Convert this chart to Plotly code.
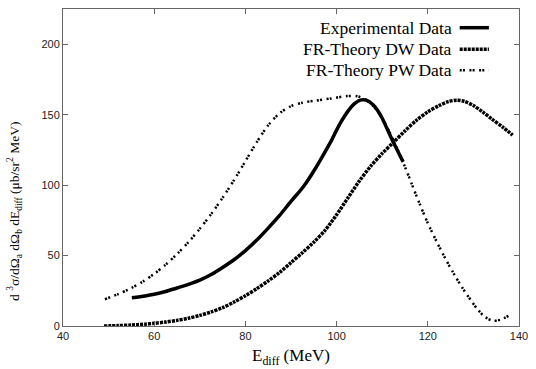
import plotly.graph_objects as go

# Experimental data (solid)
exp_x = [55.1, 58, 60, 62.5, 65, 67.5, 70, 72.5, 75, 77.5, 80, 82.5, 85, 87.5, 90, 92, 93.3, 95, 97, 99, 100,
         101, 102.5, 104, 105.4, 106.5, 108, 109, 110, 111, 112.4, 113.5, 114.6]
exp_y = [20, 21.3, 22.5, 24.5, 27, 29.5, 32.5, 36.5, 41.5, 47, 53.5, 61, 69.5, 78.5, 88.5, 96, 101.5, 110, 121,
         132.5, 139, 145, 152.5, 158, 160.5, 160.3, 157, 153, 147.5, 140.5, 130.7, 123.5, 116.5]

# FR-Theory DW data (dense dots)
dw_x = [49, 52, 55, 58, 60, 62.5, 65, 67.5, 70, 72.5, 75, 77.5, 80, 82.5, 85, 87.5, 90, 92.5, 95, 97.5, 100,
        102.5, 105, 107.5, 110, 112.5, 115, 117.5, 120, 122.5, 124.5, 126.4, 128, 130, 132, 134, 136.5, 138.6]
dw_y = [0, 0.3, 0.7, 1.3, 1.9, 2.8, 4, 5.5, 7.5, 10, 13, 17, 21.5, 26.5, 32, 38, 45, 52, 59.5, 68, 79,
        91, 103, 113.5, 122.5, 130.5, 138.5, 146, 152, 156.5, 159.3, 160.3, 159.5, 156.5, 152, 147, 141, 135.5]

# FR-Theory PW data (sparse double dots)
pw_x = [49.2, 52, 55, 57.5, 60, 62.5, 65, 67.5, 70, 72.5, 75, 77.5, 80, 82.5, 85, 87.5, 90, 92.5, 95,
        98.8, 102.4, 104.6, 106.5, 108.5, 110.5, 112.5, 114.6, 116.4, 118.3, 120, 122, 124, 126, 127.5,
        129.5, 131, 132.5, 134.3, 136, 138]
pw_y = [19, 22.5, 27, 31.5, 37, 43.5, 51, 59.5, 69, 79.5, 91, 103.5, 117, 130.5, 142.5, 151, 156, 158.5, 159.8,
        161.5, 163.2, 163, 160.5, 154.5, 144.5, 131.5, 116, 101.5, 86, 73, 59.5, 47, 35.5, 27.5,
        18, 11.5, 6.5, 3.7, 4.5, 7.8]

x_ticks = [40, 60, 80, 100, 120, 140]
y_ticks = [0, 50, 100, 150, 200]

legend_names = ["Experimental Data", "FR-Theory DW Data", "FR-Theory PW Data"]

SERIF = "Liberation Serif"
SANS = "Liberation Sans"

styles = [
    dict(color="black", width=3.5, dash="solid"),
    dict(color="black", width=3.5, dash="3px,1px"),
    dict(color="black", width=2.5, dash="2px,1.2px,2px,4.5px"),
]

fig = go.Figure()
for (xs, ys, name, st) in zip([dw_x, pw_x, exp_x], [dw_y, pw_y, exp_y],
                              [legend_names[1], legend_names[2], legend_names[0]],
                              [styles[1], styles[2], styles[0]]):
    fig.add_trace(go.Scatter(x=xs, y=ys, mode="lines", name=name,
                             line=dict(**st, shape="spline", smoothing=0.8), showlegend=False))

axis_common = dict(showline=True, linecolor="#666", linewidth=1, mirror="ticks", ticks="inside",
                   ticklen=5, tickcolor="#666", showgrid=False, zeroline=False,
                   ticklabeloverflow="allow",
                   tickfont=dict(family=SANS, size=11, color="#222"))

fig.update_layout(
    width=536, height=369,
    margin=dict(l=63, r=8, t=8, b=43),
    paper_bgcolor="white", plot_bgcolor="white",
    xaxis=dict(range=[40, 140], tickvals=x_ticks, **axis_common),
    yaxis=dict(range=[0, 225], tickvals=y_ticks, **axis_common),
)

annotations = [
    dict(text="E<sub>diff</sub> (MeV)", x=0.5, y=0, xref="paper", yref="paper", yshift=-31,
         xanchor="center", yanchor="middle", showarrow=False, font=dict(family=SERIF, size=17, color="black")),
    dict(text="d <sup>3</sup>σ/dΩ<sub>a</sub> dΩ<sub>b</sub> dE<sub>diff</sub> (μb/sr<sup>2</sup> MeV)",
         x=0, y=0.36, xref="paper", yref="paper", xshift=-48, textangle=-90,
         xanchor="center", yanchor="middle", showarrow=False, font=dict(family=SERIF, size=13.5, color="black")),
]
leg_y = [0.941, 0.873, 0.807]
for name, yy, st in zip(legend_names, leg_y, styles):
    annotations.append(dict(text=name, x=0.857, y=yy, xref="paper", yref="paper", xanchor="right",
                            yanchor="middle", showarrow=False, font=dict(family=SERIF, size=17.5, color="black")))
    fig.add_shape(type="line", xref="paper", yref="paper", x0=0.870, x1=0.934, y0=yy, y1=yy,
                  line=dict(color=st["color"], width=st["width"], dash=st["dash"]))
fig.update_layout(annotations=annotations)

fig.write_html("out.html")
